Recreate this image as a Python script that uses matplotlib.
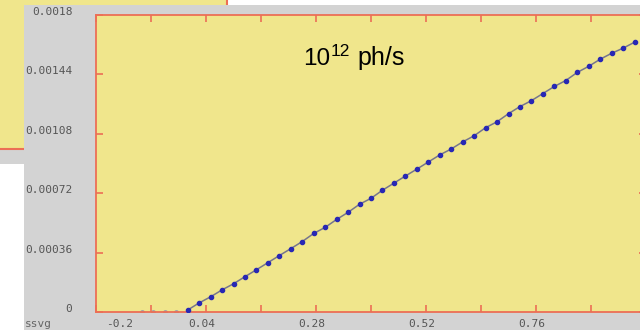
import numpy as np
import matplotlib.pyplot as plt
from matplotlib.patches import Rectangle
from matplotlib.transforms import ScaledTranslation

#----------------------
# Data
#----------------------
x_flat = [-0.1, -0.075, -0.05, -0.025]
y_flat = [0, 0, 0, 0]

x_vals = [0.0, 0.025, 0.05, 0.075, 0.1, 0.125, 0.15, 0.175, 0.2, 0.225,
          0.25, 0.275, 0.3, 0.325, 0.35, 0.375, 0.4, 0.425, 0.45, 0.475,
          0.5, 0.525, 0.55, 0.575, 0.6, 0.625, 0.65, 0.675, 0.7, 0.725,
          0.75, 0.775, 0.8, 0.825, 0.85, 0.875, 0.9, 0.925, 0.95, 0.975]
y_vals = [0.000012, 0.000055, 0.000092, 0.000134, 0.000171, 0.000214, 0.000256, 0.000299, 0.000342, 0.000384,
          0.000427, 0.000476, 0.000513, 0.000561, 0.000604, 0.000653, 0.000689, 0.000738, 0.000781, 0.000824,
          0.000866, 0.000909, 0.000952, 0.000988, 0.001031, 0.001068, 0.001117, 0.001153, 0.001202, 0.001245,
          0.001281, 0.001324, 0.001367, 0.001403, 0.001452, 0.001489, 0.001532, 0.001568, 0.001599, 0.001635]

x_ticks = [-0.2, -0.08, 0.04, 0.16, 0.28, 0.4, 0.52, 0.64, 0.76, 0.88, 1.0]
x_ticklabels = ['-0.2', '', '0.04', '', '0.28', '', '0.52', '', '0.76', '', '']
y_ticks = [0, 0.00036, 0.00072, 0.00108, 0.00144, 0.0018]
y_ticklabels = ['0', '0.00036', '0.00072', '0.00108', '0.00144', '0.0018']

#Title pieces: base, exponent, unit
title_base = '10'
title_exp = '12'
title_unit = 'ph/s'
corner_text = 'ssvg'

#Colours
yellow = '#f0e68c'
gray = '#d3d3d3'
red = '#ec6f55'
W, H = 640, 330

fig = plt.figure(figsize=(6.4, 3.3), dpi=100, facecolor='white')

def rect(x0, y0, x1, y1, **kw):
    #pixel box (top-left origin) -> figure fraction
    r = Rectangle((x0/W, 1-y1/H), (x1-x0)/W, (y1-y0)/H, transform=fig.transFigure, zorder=-10, **kw)
    fig.add_artist(r)

def ftext(x, y, s, **kw):
    #pixel position (top-left origin)
    return fig.text(x/W, 1-y/H, s, **kw)

#Panel peeking out behind
rect(0, 0, 227, 164, facecolor=gray, edgecolor='none')
rect(-2, -2, 227, 149, facecolor=yellow, edgecolor=red, lw=1.5)
#Main grey panel
rect(24, 5, W+5, H+5, facecolor=gray, edgecolor='none')

ax = fig.add_axes([96/W, (H-312)/H, 550/W, 297/H])
ax.set_zorder(5)
ax.set_facecolor(yellow)
for s in ax.spines.values():
    s.set_color(red)
    s.set_linewidth(1.3)

ax.plot(x_flat, y_flat, color='#a0a0a8', lw=0, marker='o', ms=2.5, zorder=1)
ax.plot(x_vals, y_vals, color='#76768c', lw=1.1, marker='o', ms=3,
        mfc='#2828b4', mec='#2828b4', zorder=3)

ax.set_xlim(-0.2, 1.0)
ax.set_ylim(0, 0.0018)
ax.set_xticks(x_ticks)
ax.set_xticklabels(x_ticklabels)
ax.set_yticks(y_ticks)
ax.set_yticklabels(y_ticklabels)
ax.tick_params(direction='in', length=5, width=1.2, color=red,
               top=True, right=True, labelsize=8, labelcolor='#555555')
ax.tick_params(axis='x', pad=5)
ax.tick_params(axis='y', pad=17)
for lab in ax.get_xticklabels() + ax.get_yticklabels():
    lab.set_family('DejaVu Sans Mono')

#Old plot applet puts labels a bit off the ticks
for lab in ax.get_xticklabels():
    dx = 24 if lab.get_text() == '-0.2' else -4
    lab.set_transform(lab.get_transform() + ScaledTranslation(dx/100, 0, fig.dpi_scale_trans))
for lab in ax.get_yticklabels():
    lab.set_transform(lab.get_transform() + ScaledTranslation(0, 4/100, fig.dpi_scale_trans))

#Title "10^12 ph/s"
tkw = dict(family='Liberation Sans', color='black', va='baseline', ha='left', zorder=10)
ftext(303, 65, title_base, fontsize=17.5, **tkw)
ftext(331, 56, title_exp, fontsize=12.5, **tkw)
ftext(357, 65, title_unit, fontsize=18, **tkw)

ftext(25, 324, corner_text, ha='left', va='center', fontsize=8,
      family='DejaVu Sans Mono', color='#666666')

fig.savefig('out.png', dpi=100, facecolor='white')
